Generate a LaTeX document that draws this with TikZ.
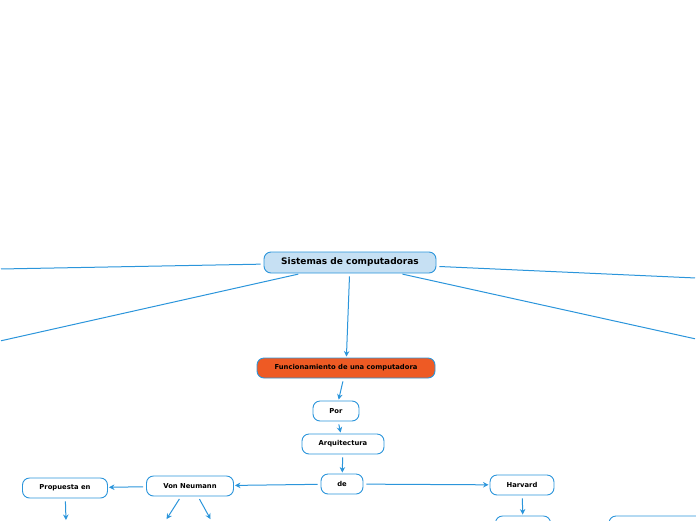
\documentclass[tikz,border=0pt]{standalone}
\usepackage{fontspec}
\setmainfont{DejaVu Sans}
\usetikzlibrary{arrows.meta}
\definecolor{linkblue}{HTML}{2B95DB}
\definecolor{rootfill}{HTML}{C6E0F3}
\definecolor{topicred}{HTML}{EE5A24}

\begin{document}
\begin{tikzpicture}[>=Stealth,x=1pt,y=-1pt,
  box/.style={draw=linkblue,line width=0.9pt,rounded corners=7pt,fill=white,
    font=\bfseries\fontsize{6.8}{7}\selectfont,minimum height=20pt,inner sep=2pt},
  rootbox/.style={box,fill=rootfill,font=\bfseries\fontsize{9}{10}\selectfont,minimum height=21pt},
  topicbox/.style={box,fill=topicred},
  link/.style={draw=linkblue,line width=1pt,shorten <=3pt,shorten >=1pt},
  arrowlink/.style={link,->,>={Stealth[length=5.5pt,width=5.5pt]}}]
\useasboundingbox (0,0) rectangle (696,520);
\clip (0,0) rectangle (696,520);

% main nodes
\node[rootbox,minimum width=172pt] (root) at (350,262.5) {Sistemas de computadoras};
\node[topicbox,minimum width=178pt] (func) at (346,368) {Funcionamiento de una computadora};
\node[box,minimum width=46pt] (por) at (336,411) {Por};
\node[box,minimum width=82pt] (arq) at (343,444) {Arquitectura};
\node[box,minimum width=42pt] (de) at (342,484) {de};
\node[box,minimum width=87pt] (vn) at (190,486) {Von Neumann};
\node[box,minimum width=85pt] (prop) at (65,488) {Propuesta en};
\node[box,minimum width=64pt] (harv) at (522,485) {Harvard};
% nodes cut by the lower edge
\node[box,minimum width=55pt] (harvsub) at (523,526) {};
\node[box,minimum width=112pt] (rightsub) at (665,526) {};

% free ends outside the picture
\coordinate (offl) at (0,269);
\coordinate (offll) at (0,341);
\coordinate (offr) at (696,278);
\coordinate (offlr) at (696,339);
\coordinate (vnleft) at (166,520);
\coordinate (vnright) at (211,520);
\coordinate (propdown) at (66,521);

\draw[link] (root) -- (offl);
\draw[link] (root) -- (offll);
\draw[link] (root) -- (offr);
\draw[link] (root) -- (offlr);

\draw[arrowlink] (root) -- (func);
\draw[arrowlink] (func) -- (por);
\draw[arrowlink] (por) -- (arq);
\draw[arrowlink] (arq) -- (de);
\draw[arrowlink] (de) -- (vn);
\draw[arrowlink] (de) -- (harv);
\draw[arrowlink] (vn) -- (prop);
\draw[arrowlink] ([xshift=-9pt]vn.south) -- (vnleft);
\draw[arrowlink] ([xshift=8pt]vn.south) -- (vnright);
\draw[arrowlink] (prop) -- (propdown);
\draw[arrowlink] (harv) -- (harvsub);
\end{tikzpicture}
\end{document}
